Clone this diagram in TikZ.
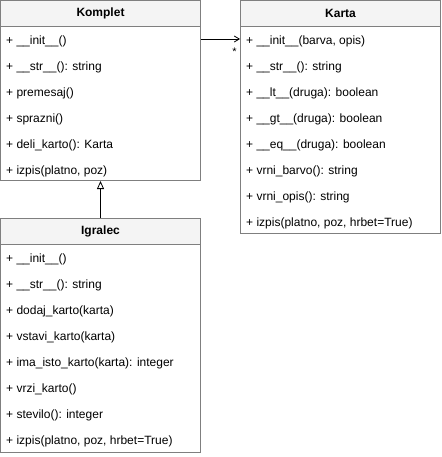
\documentclass[tikz,border=0pt]{standalone}
\usepackage{fontspec}
\setmainfont{Liberation Sans}
\usetikzlibrary{arrows.meta, calc}
\definecolor{umlline}{HTML}{7F7F7F}
\definecolor{umlhead}{HTML}{F4F4F4}
\tikzset{
	cls/.style={draw=umlline, line width=1pt, minimum width=200pt, inner sep=0pt},
	head/.style={cls, fill=umlhead, minimum height=26pt, font=\fontsize{12}{14}\selectfont\bfseries},
	member/.style={anchor=west, inner sep=0pt, font=\fontsize{12}{14}\selectfont},
}
\begin{document}
\begin{tikzpicture}[x=1pt, y=-1pt]
		\useasboundingbox (0,0) rectangle (441,457);
		\node[cls, minimum height=180pt] (komplet) at (100.5,90.5) {};
		\node[head] (kompletH) at (100.5,13.5) {Komplet};
		\node[cls, minimum height=233pt] (karta) at (340.5,117) {};
		\node[head] (kartaH) at (340.5,13.5) {Karta};
		\node[cls, minimum height=234pt] (igralec) at (100.5,335.5) {};
		\node[head] (igralecH) at (100.5,231.5) {Igralec};
		\foreach \m [count=\i] in {{+ \_\_init\_\_()}, {+ \_\_str\_\_(): string}, {+ premesaj()}, {+ sprazni()}, {+ deli\_karto(): Karta}, {+ izpis(platno, poz)}}
			\node[member] (k\i) at (6,15+26*\i) {\m};
		\foreach \m [count=\i] in {{+ \_\_init\_\_(barva, opis)}, {+ \_\_str\_\_(): string}, {+ \_\_lt\_\_(druga): boolean}, {+ \_\_gt\_\_(druga): boolean}, {+ \_\_eq\_\_(druga): boolean}, {+ vrni\_barvo(): string}, {+ vrni\_opis(): string}, {+ izpis(platno, poz, hrbet=True)}}
			\node[member] (c\i) at (246,15+26*\i) {\m};
		\foreach \m [count=\i] in {{+ \_\_init\_\_()}, {+ \_\_str\_\_(): string}, {+ dodaj\_karto(karta)}, {+ vstavi\_karto(karta)}, {+ ima\_isto\_karto(karta): integer}, {+ vrzi\_karto()}, {+ stevilo(): integer}, {+ izpis(platno, poz, hrbet=True)}}
			\node[member] (i\i) at (6,233+26*\i) {\m};
		\draw[-{Straight Barb[length=5pt,width=6pt]}, line width=0.8pt] ([yshift=-39pt]komplet.north east) -- ([yshift=-39pt]karta.north west)
			node[at end, anchor=north east, xshift=-3pt, yshift=-9pt, inner sep=0pt, font=\fontsize{11}{12}\selectfont] (mult) {*};
		\draw[-{Triangle[open,length=8pt,width=7pt]}, line width=0.8pt] (igralec.north) -- (komplet.south);
	\end{tikzpicture}
\end{document}
